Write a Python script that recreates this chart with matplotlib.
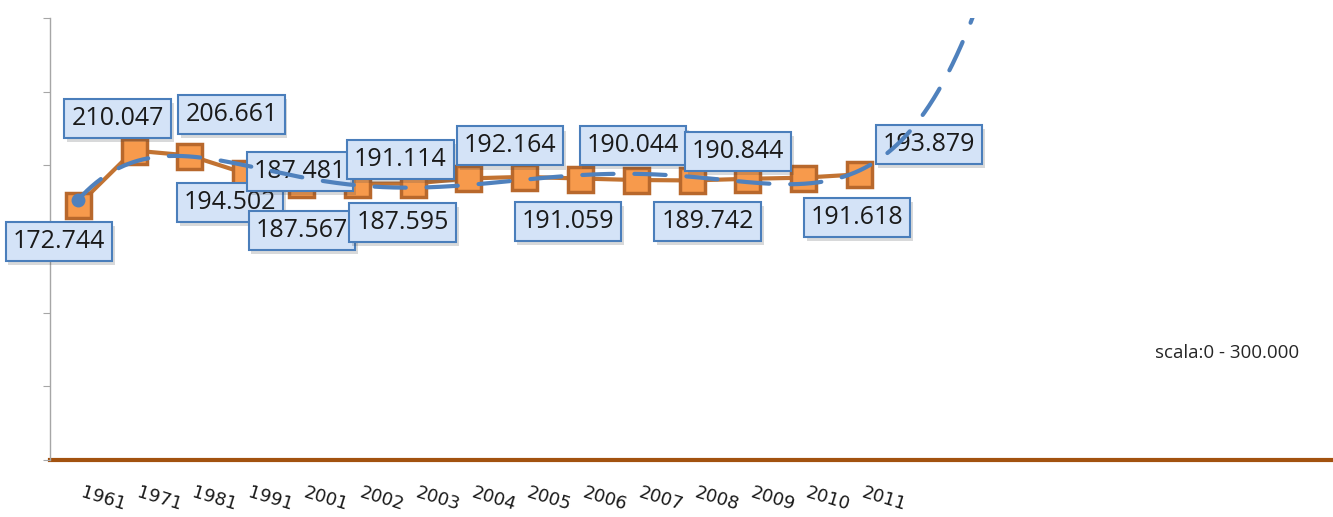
import numpy as np
import matplotlib.pyplot as plt
import matplotlib.patheffects as pe
from matplotlib.transforms import ScaledTranslation

# ── data ──────────────────────────────────────────────────────────────────────
years = ['1961', '1971', '1981', '1991', '2001', '2002', '2003', '2004',
         '2005', '2006', '2007', '2008', '2009', '2010', '2011']
population = [172744, 210047, 206661, 194502, 187481, 187567, 187595, 191114,
              192164, 191059, 190044, 189742, 190844, 191618, 193879]

# label box offsets from each point (pixels, +y up)
label_offsets = [(-19, -36), (-16, 32), (42, 41), (-15, -29), (-1, 12),
                 (-55, -47), (-10, -39), (-68, 19), (-14, 31), (-12, -43),
                 (-3, 35), (16, -41), (-9, 27), (54, -40), (70, 30)]

n_cat = 23          # category axis incl. forecast periods
trend_order = 5

W, H = 1333, 517
fig = plt.figure(figsize=(W / 100, H / 100), dpi=100)
ax = fig.add_axes([50 / W, 57 / H, 1283 / W, 442 / H])

x = np.arange(len(population))
y = np.array(population, dtype=float)

# ── series line with square markers ───────────────────────────────────────────
ax.plot(x, y, color='#c27332', lw=3, zorder=3,
        marker='s', ms=18, mfc='#f79a4c', mec='#b8682c', mew=2.5)

# ── polynomial trendline, projected forward ───────────────────────────────────
coef = np.polyfit(x + 1, y, trend_order)
xt = np.linspace(0, 16.5, 400)
yt = np.polyval(coef, xt + 1)
ax.plot(xt, yt, color='#4f81bd', lw=3, dashes=(7.5, 5),
        dash_capstyle='round', solid_capstyle='round', zorder=6)
ax.plot(xt[0], yt[0], 'o', color='#4f81bd', ms=9, zorder=6)

# ── data labels ───────────────────────────────────────────────────────────────
for xi, yi, (dx, dy) in zip(x, y, label_offsets):
    txt = f'{int(yi):,}'.replace(',', '.')
    t = ax.annotate(txt, xy=(xi, yi), xytext=(dx, dy),
                    textcoords='offset pixels', ha='center', va='center',
                    fontsize=18, family='Open Sans', color='#1a1a1a', zorder=5,
                    bbox=dict(boxstyle='square,pad=0.28', fc='#d4e3f7',
                              ec='#4a7ebb', lw=1.5))
    t.get_bbox_patch().set_path_effects(
        [pe.SimplePatchShadow(offset=(2, -3), alpha=0.2), pe.Normal()])

# ── axes ──────────────────────────────────────────────────────────────────────
ax.set_xlim(-0.5, n_cat - 0.5)
ax.set_ylim(0, 300000)
ax.set_yticks(np.arange(0, 300001, 50000))
ax.set_yticklabels([])
ax.tick_params(axis='y', direction='out', length=5, color='#a6a6a6')

ax.set_xticks(x)
ax.set_xticklabels(years, rotation=-17, ha='left', va='top',
                   rotation_mode='anchor', fontsize=13, color='#1a1a1a')
ax.tick_params(axis='x', length=0, pad=17)
shift = ScaledTranslation(6 / 100, 0, fig.dpi_scale_trans)
for lbl in ax.get_xticklabels():
    lbl.set_transform(lbl.get_transform() + shift)

for s in ['top', 'right']:
    ax.spines[s].set_visible(False)
ax.spines['left'].set_color('#a6a6a6')
ax.spines['left'].set_linewidth(1)
ax.spines['bottom'].set_color('#a2520f')
ax.spines['bottom'].set_linewidth(3)
ax.spines['bottom'].set_zorder(1)

fig.text(1155 / W, 1 - 353 / H, 'scala:0 - 300.000', fontsize=13.5,
         family='Open Sans', color='#262626', ha='left', va='center')

fig.savefig('out.png', dpi=100)
